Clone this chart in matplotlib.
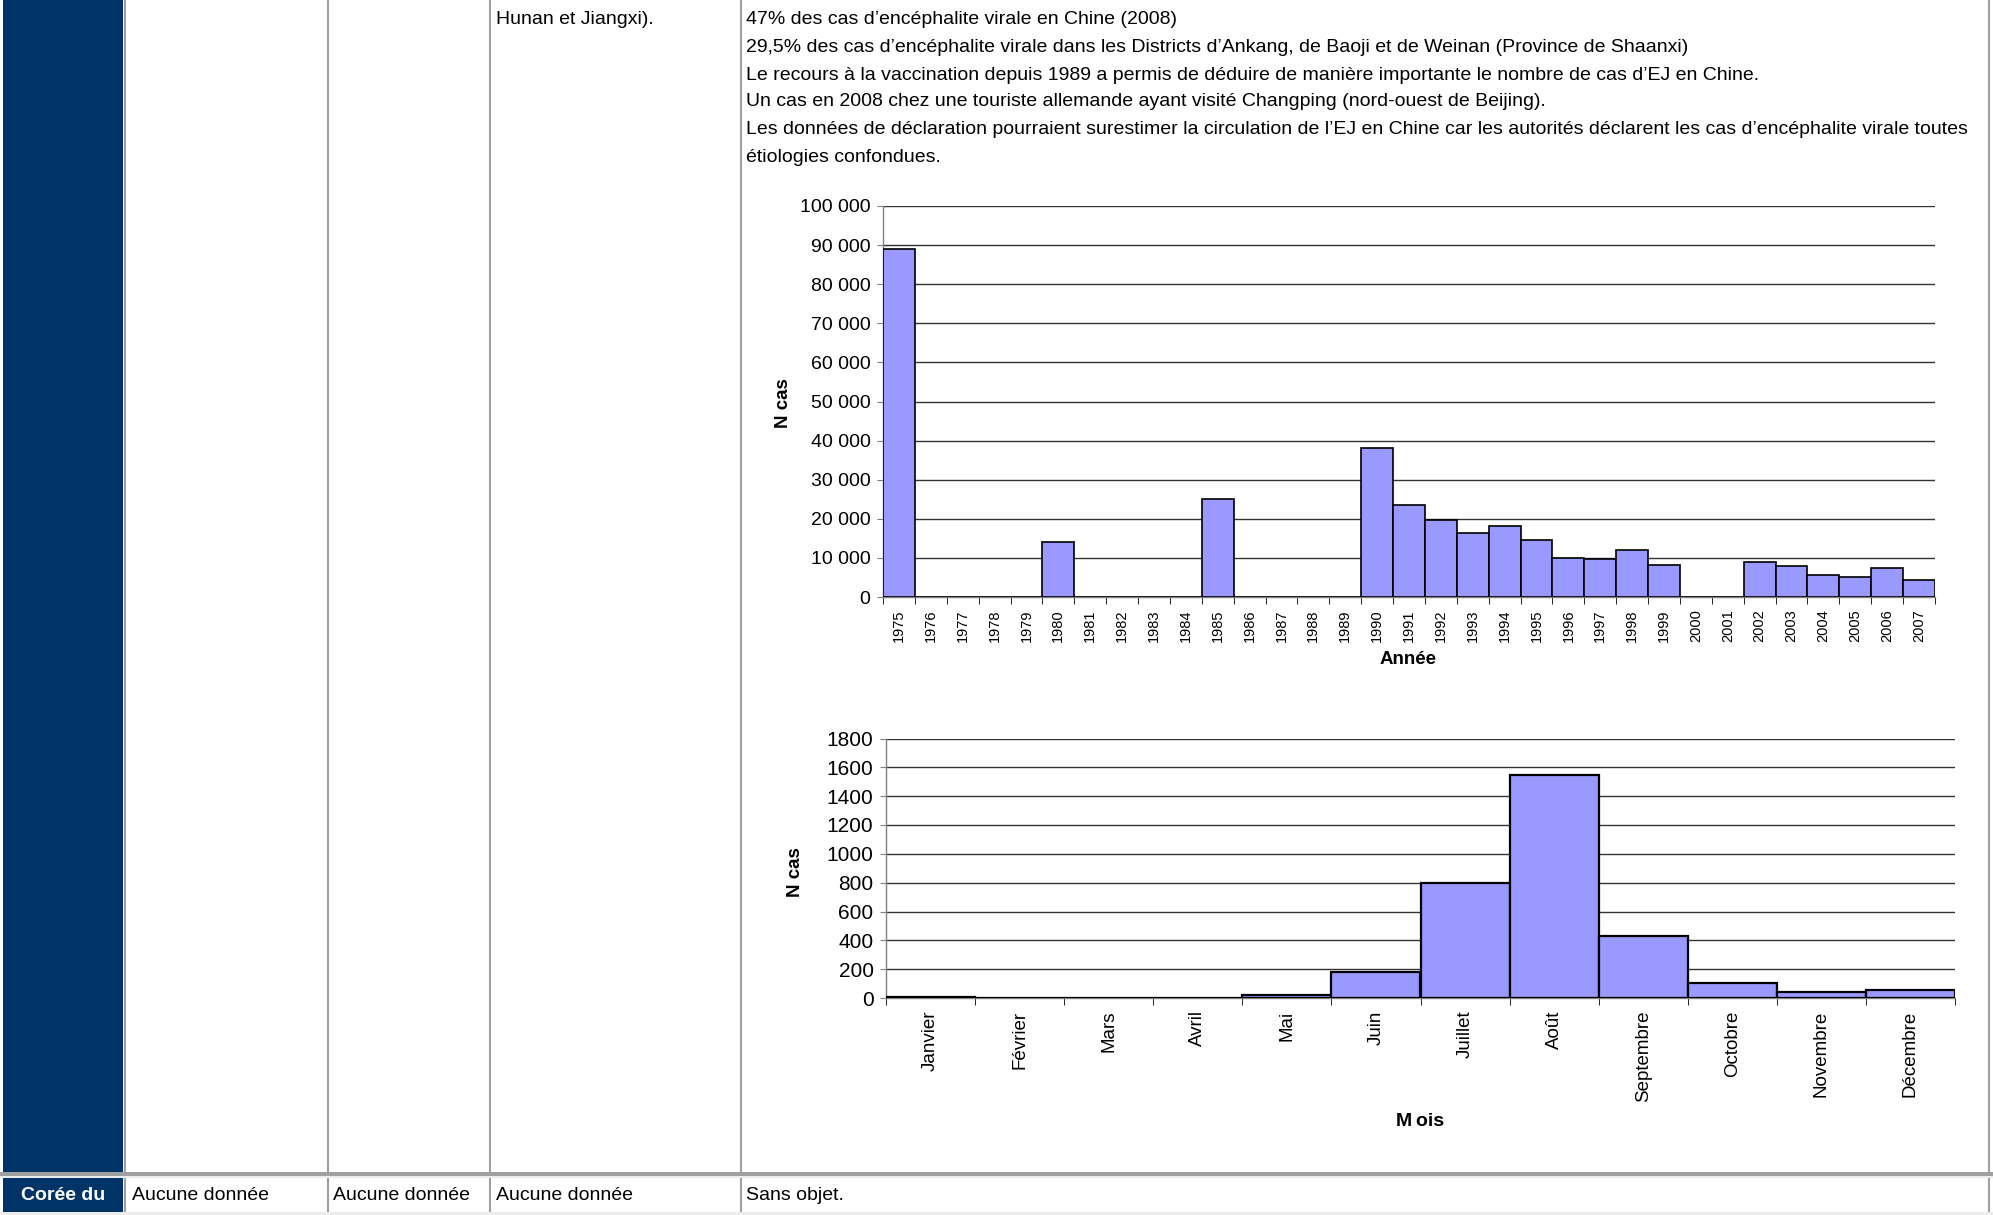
import matplotlib
matplotlib.use("Agg")
import matplotlib.pyplot as plt
from matplotlib import font_manager
from matplotlib.patches import Rectangle
from matplotlib.ticker import FuncFormatter, FixedLocator

# ---------------- data ----------------
years = [str(y) for y in range(1975, 2008)]
cases_year = [89000, 0, 0, 0, 0, 14000, 0, 0, 0, 0, 25000, 0, 0, 0, 0,
              38000, 23600, 19800, 16400, 18100, 14700, 9900, 9600, 12000,
              8200, 0, 0, 8900, 7900, 5500, 5100, 7400, 4400]
months = ["Janvier", "Février", "Mars", "Avril", "Mai", "Juin", "Juillet",
          "Août", "Septembre", "Octobre", "Novembre", "Décembre"]
cases_month = [10, 0, 0, 0, 20, 177, 800, 1545, 428, 102, 42, 58]

text_lines = [
    "47% des cas d\u2019encéphalite virale en Chine (2008)",
    "29,5% des cas d\u2019encéphalite virale dans les Districts d\u2019Ankang, de Baoji et de Weinan (Province de Shaanxi)",
    "Le recours à la vaccination depuis 1989 a permis de déduire de manière importante le nombre de cas d\u2019EJ en Chine.",
    "Un cas en 2008 chez une touriste allemande ayant visité Changping (nord-ouest de Beijing).",
    "Les données de déclaration pourraient surestimer la circulation de l\u2019EJ en Chine car les autorités déclarent les cas d\u2019encéphalite virale toutes",
    "étiologies confondues.",
]
row_cells = ["Aucune donnée", "Aucune donnée", "Aucune donnée", "Sans objet."]
country_label = "Corée du"
col3_text = "Hunan et Jiangxi)."

# ---------------- fonts ----------------
names = {f.name for f in font_manager.fontManager.ttflist}
narrow = "Liberation Sans Narrow" if "Liberation Sans Narrow" in names else "Liberation Sans"
arial = "Liberation Sans" if "Liberation Sans" in names else "DejaVu Sans"

W, H = 1993, 1215
fig = plt.figure(figsize=(W / 100, H / 100), dpi=100)
fig.patch.set_facecolor("white")

# ---------------- table background ----------------
bg = fig.add_axes([0, 0, 1, 1], zorder=-5)
bg.set_xlim(0, W)
bg.set_ylim(H, 0)
bg.axis("off")

navy = "#003366"
grid_gray = "#a0a0a0"
bg.add_patch(Rectangle((3, 0), 120, 1172, color=navy, lw=0))
bg.add_patch(Rectangle((3, 1178), 120, 34, color=navy, lw=0))
# vertical cell borders
for x in [125, 328, 490, 741, 1989]:
    bg.plot([x, x], [0, 1172], color=grid_gray, lw=1.5, solid_capstyle="butt")
    bg.plot([x, x], [1178, 1212], color=grid_gray, lw=1.5, solid_capstyle="butt")
# horizontal row separator
bg.add_patch(Rectangle((0, 1172), W, 4, color=grid_gray, lw=0))
bg.add_patch(Rectangle((0, 1176), W, 2, color="#ececec", lw=0))
bg.add_patch(Rectangle((0, 1212), W, 3, color="#ececec", lw=0))

# text in cells
bg.text(496, 19, col3_text, fontsize=14, family=[narrow, "DejaVu Sans"],
        va="center", ha="left", color="black")
line_y = [19, 47, 75, 102, 130, 158]
for y, t in zip(line_y, text_lines):
    bg.text(746, y, t, fontsize=14, family=[narrow, "DejaVu Sans"],
            va="center", ha="left", color="black")
bg.text(63, 1195, country_label, fontsize=14, family=[narrow, "DejaVu Sans"],
        weight="bold", color="white", va="center", ha="center")
for x, t in zip([132, 333, 496, 746], row_cells):
    bg.text(x, 1195, t, fontsize=14, family=[narrow, "DejaVu Sans"],
            va="center", ha="left", color="black")

# ---------------- helper ----------------
def px_axes(left, right, top, bottom):
    return fig.add_axes([left / W, (H - bottom) / H, (right - left) / W, (bottom - top) / H])

def style_axes(ax, ylab_size):
    for s in ["top", "right"]:
        ax.spines[s].set_visible(False)
    ax.spines["left"].set_color("#808080")
    ax.spines["bottom"].set_color("#808080")
    ax.spines["left"].set_linewidth(1.0)
    ax.spines["bottom"].set_linewidth(1.0)
    ax.yaxis.grid(True, color="#333333", lw=1.0)
    ax.set_axisbelow(True)
    ax.tick_params(axis="y", direction="out", length=4, color="#808080",
                   labelsize=ylab_size, pad=5)
    for lab in ax.get_yticklabels():
        lab.set_family(arial)

# ---------------- top chart: cases by year ----------------
ax1 = px_axes(883, 1935, 206, 597)
xs = list(range(len(years)))
ax1.bar(xs, cases_year, width=1.0, color="#9999ff", edgecolor="black", lw=1.2, zorder=3)
ax1.set_xlim(-0.5, len(years) - 0.5)
ax1.set_ylim(0, 100000)
ax1.set_yticks(range(0, 100001, 10000))
ax1.yaxis.set_major_formatter(FuncFormatter(lambda v, p: f"{int(v):,}".replace(",", " ")))
ax1.set_xticks(xs)
ax1.set_xticklabels(years, rotation=90, fontsize=10.5, family=arial)
ax1.xaxis.set_minor_locator(FixedLocator([i - 0.5 for i in range(len(years) + 1)]))
ax1.tick_params(axis="x", which="major", length=0, pad=9)
ax1.tick_params(axis="x", which="minor", length=5, color="black", direction="out")
style_axes(ax1, 14)
fig.text(783 / W, (H - 403) / H, "N cas", rotation=90, fontsize=13.5, weight="bold",
         family=arial, ha="center", va="center")
fig.text(1408 / W, (H - 660) / H, "Année", fontsize=13.5, weight="bold",
         family=arial, ha="center", va="center")

# ---------------- bottom chart: cases by month ----------------
ax2 = px_axes(886, 1955, 738.5, 998)
xm = list(range(len(months)))
ax2.bar(xm, cases_month, width=1.0, color="#9999ff", edgecolor="black", lw=1.6, zorder=3)
ax2.set_xlim(-0.5, len(months) - 0.5)
ax2.set_ylim(0, 1800)
ax2.set_yticks(range(0, 1801, 200))
ax2.set_xticks(xm)
ax2.set_xticklabels(months, rotation=90, fontsize=13.5, family=arial)
ax2.xaxis.set_minor_locator(FixedLocator([i - 0.5 for i in range(len(months) + 1)]))
ax2.tick_params(axis="x", which="major", length=0, pad=9)
ax2.tick_params(axis="x", which="minor", length=5, color="black", direction="out")
style_axes(ax2, 15)
fig.text(796 / W, (H - 872) / H, "N cas", rotation=90, fontsize=13.5, weight="bold",
         family=arial, ha="center", va="center")
fig.text(1420 / W, (H - 1121) / H, "M\u2009ois", fontsize=14, weight="bold",
         family=[arial, "DejaVu Sans"], ha="center", va="center")

fig.savefig("out.png", dpi=100, facecolor="white")
